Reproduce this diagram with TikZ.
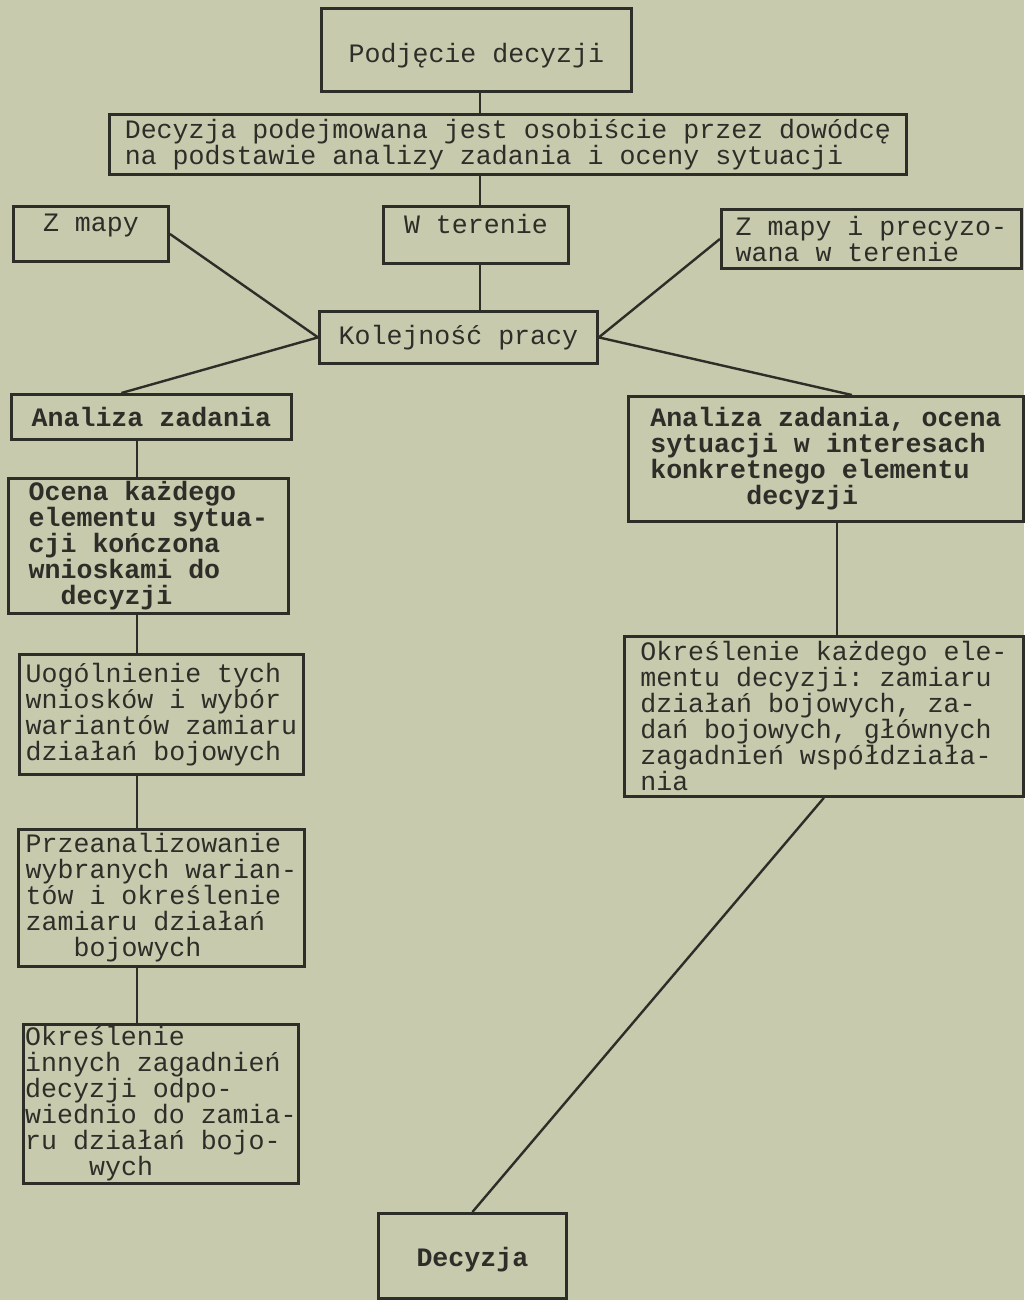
\documentclass[tikz,border=0pt]{standalone}
\usepackage{fontspec}
\setmonofont{Liberation Mono}
\definecolor{paper}{RGB}{200,202,174}
\definecolor{ink}{RGB}{46,46,40}

\begin{document}
\begin{tikzpicture}[x=0.5pt,y=-0.5pt]
	\tikzstyle{box}   = [draw=ink,line width=1.4pt,inner sep=0pt,anchor=north west,align=left,text=ink,font=\ttfamily\fontsize{13.3pt}{13pt}\selectfont]
	\tikzstyle{heavy} = [box,font=\ttfamily\bfseries\fontsize{13.3pt}{13pt}\selectfont]
	\tikzstyle{link}  = [draw=ink,line width=1.2pt]

	\fill[paper] (0,0) rectangle (1024,1300);
	\useasboundingbox (0,0) rectangle (1024,1300);

	\coordinate (lspine) at (137,0);
	\coordinate (cspine) at (480,0);
	\coordinate (rspine) at (837,0);

	% top of the chart
	\node[box,minimum width=155pt,minimum height=41.5pt,text height=15pt] (start) at (320,7) {Podjęcie decyzji};
	\node[box,minimum width=398.5pt,minimum height=30pt] (decision) at (108,113) {Decyzja podejmowana jest osobiście przez dowódcę\\na podstawie analizy zadania i oceny sytuacji};
	\node[box,minimum width=77.5pt,minimum height=27.5pt,text depth=11pt] (zmapy) at (12,205) {Z mapy};
	\node[box,minimum width=92.5pt,minimum height=28.5pt,text depth=11pt] (wteren) at (382,205) {W terenie};
	\node[box,minimum width=150pt,minimum height=29.5pt] (zmapyt) at (720,208) {Z mapy i precyzo-\\wana w terenie};
	\node[box,minimum width=139pt,minimum height=26pt] (kolej) at (318,310) {Kolejność pracy};

	% left branch
	\node[heavy,minimum width=140pt,minimum height=22.5pt] (anal) at (10,393) {Analiza zadania};
	\node[heavy,minimum width=140pt,minimum height=67.5pt] (ocena) at (7,477) {Ocena każdego\\elementu sytua-\\cji kończona\\wnioskami do\\\hspace*{16pt}decyzji};
	\node[box,minimum width=142pt,minimum height=60pt] (uogol) at (18,653) {Uogólnienie tych\\wniosków i wybór\\wariantów zamiaru\\działań bojowych};
	\node[box,minimum width=143pt,minimum height=68.5pt] (przean) at (17,828) {Przeanalizowanie\\wybranych warian-\\tów i określenie\\zamiaru działań\\\hspace*{24pt}bojowych};
	\node[box,minimum width=137.5pt,minimum height=79.5pt] (okr) at (22,1023) {Określenie\\innych zagadnień\\decyzji odpo-\\wiednio do zamia-\\ru działań bojo-\\\hspace*{32pt}wych};

	% right branch
	\node[heavy,minimum width=197.5pt,minimum height=62.5pt] (ranal) at (627,395) {Analiza zadania, ocena\\sytuacji w interesach\\konkretnego elementu\\\hspace*{48pt}decyzji};
	\node[box,minimum width=199.5pt,minimum height=80pt] (rokr) at (623,635) {Określenie każdego ele-\\mentu decyzji: zamiaru\\działań bojowych, za-\\dań bojowych, głównych\\zagadnień współdziała-\\nia};
	\node[heavy,minimum width=94pt,minimum height=42.5pt,text height=13pt] (decyzja) at (377,1212) {Decyzja};

	\path[link] (start.south -| cspine)    edge (decision.north -| cspine);
	\path[link] (decision.south -| cspine) edge (wteren.north -| cspine);
	\path[link] (wteren.south -| cspine)   edge (kolej.north -| cspine);
	\path[link] (zmapy.east)  edge (kolej.west);
	\path[link] (zmapyt.west) edge (kolej.east);
	\path[link] (kolej.west)  edge ([xshift=-15pt]anal.north);
	\path[link] (kolej.east)  edge ([xshift=13pt]ranal.north);
	\path[link] (anal.south -| lspine)   edge (ocena.north -| lspine);
	\path[link] (ocena.south -| lspine)  edge (uogol.north -| lspine);
	\path[link] (uogol.south -| lspine)  edge (przean.north -| lspine);
	\path[link] (przean.south -| lspine) edge (okr.north -| lspine);
	\path[link] (ranal.south -| rspine)  edge (rokr.north -| rspine);
	\path[link] (rokr.south) edge (decyzja.north);
\end{tikzpicture}
\end{document}
